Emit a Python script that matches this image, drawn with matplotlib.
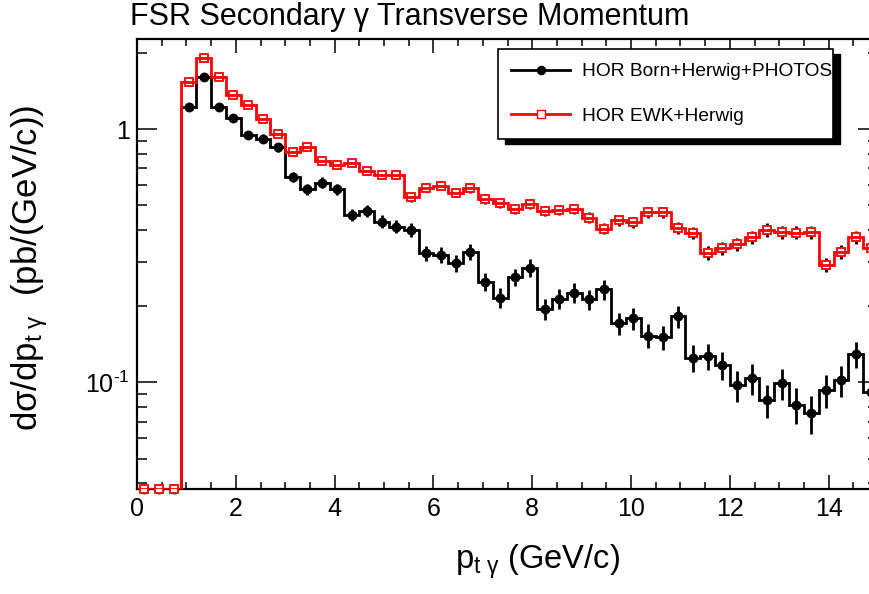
import numpy as np
import matplotlib
matplotlib.use("Agg")
import matplotlib.pyplot as plt
from matplotlib.lines import Line2D
from matplotlib.patches import Rectangle
from matplotlib.ticker import FixedLocator, FixedFormatter, NullFormatter

plt.rcParams['font.family'] = ['Liberation Sans', 'DejaVu Sans']
plt.rcParams['mathtext.fontset'] = 'custom'
plt.rcParams['mathtext.rm'] = 'Liberation Sans'
plt.rcParams['mathtext.it'] = 'Liberation Sans:italic'
plt.rcParams['mathtext.bf'] = 'Liberation Sans:bold'

# ---------------- data ----------------
bin_lo = 0.0
bin_hi = 15.0
n_bins = 50

born_vals = [0, 0, 0, 1.228, 1.60, 1.228, 1.105, 0.949, 0.918, 0.849,
             0.650, 0.579, 0.615, 0.579, 0.458, 0.477, 0.431, 0.412, 0.400, 0.324,
             0.319, 0.295, 0.328, 0.250, 0.216, 0.260, 0.284, 0.194, 0.214, 0.226,
             0.213, 0.233, 0.171, 0.179, 0.153, 0.151, 0.182, 0.125, 0.127, 0.117,
             0.0976, 0.104, 0.0851, 0.0994, 0.0815, 0.0754, 0.0932, 0.102, 0.129, 0.0913]
born_relerr = [0, 0, 0, 0.03, 0.03, 0.03, 0.035, 0.035, 0.04, 0.04,
               0.045, 0.05, 0.05, 0.05, 0.055, 0.055, 0.06, 0.06, 0.06, 0.07,
               0.07, 0.075, 0.07, 0.08, 0.09, 0.08, 0.08, 0.095, 0.09, 0.09,
               0.09, 0.09, 0.10, 0.10, 0.11, 0.11, 0.10, 0.12, 0.12, 0.13,
               0.14, 0.14, 0.15, 0.14, 0.16, 0.17, 0.15, 0.14, 0.12, 0.15]

ewk_vals = [0, 0, 0, 1.534, 1.909, 1.61, 1.366, 1.24, 1.095, 0.958,
            0.811, 0.853, 0.751, 0.721, 0.738, 0.684, 0.658, 0.659, 0.539, 0.588,
            0.598, 0.561, 0.585, 0.530, 0.510, 0.484, 0.507, 0.475, 0.480, 0.483,
            0.447, 0.404, 0.438, 0.430, 0.470, 0.471, 0.406, 0.388, 0.325, 0.339,
            0.352, 0.374, 0.400, 0.392, 0.390, 0.392, 0.291, 0.327, 0.374, 0.339]
ewk_relerr = [0, 0, 0, 0.02, 0.02, 0.02, 0.02, 0.02, 0.025, 0.025,
              0.03, 0.03, 0.03, 0.03, 0.03, 0.035, 0.035, 0.035, 0.04, 0.04,
              0.04, 0.04, 0.04, 0.045, 0.045, 0.045, 0.045, 0.045, 0.045, 0.045,
              0.05, 0.05, 0.05, 0.05, 0.05, 0.05, 0.055, 0.055, 0.06, 0.06,
              0.06, 0.06, 0.06, 0.06, 0.06, 0.06, 0.065, 0.065, 0.06, 0.065]

labels = ["HOR Born+Herwig+PHOTOS", "HOR EWK+Herwig"]
title = "FSR Secondary \u03b3 Transverse Momentum"
x_ticks = [0, 2, 4, 6, 8, 10, 12, 14]
y_major = [0.1, 1.0]
y_major_labels = ["$\\mathregular{10^{\u2010 1}}$", "1"]

# ---------------- figure ----------------
W, H = 869, 594
fig = plt.figure(figsize=(W / 100, H / 100), dpi=100)
ax_l, ax_r, ax_t, ax_b = 137, 878, 39, 489
ax = fig.add_axes([ax_l / W, (H - ax_b) / H, (ax_r - ax_l) / W, (ax_b - ax_t) / H])

ymin, ymax = 0.0379, 2.27
ax.set_yscale('log')
ax.set_xlim(bin_lo, bin_hi)
ax.set_ylim(ymin, ymax)

edges = np.linspace(bin_lo, bin_hi, n_bins + 1)
centers = 0.5 * (edges[:-1] + edges[1:])

def draw(vals, rel, color, marker, mfc, ms, z):
    v = np.asarray(vals, float)
    shown = np.where(v > 0, v, ymin)
    err = v * np.asarray(rel, float)
    ax.errorbar(centers, shown, yerr=err, fmt='none', ecolor='black',
                elinewidth=2.0, capsize=0, zorder=z, clip_on=True)
    ax.plot(centers, shown, linestyle='none', marker=marker, ms=ms,
            mfc=mfc, mec=color, mew=1.3, zorder=z + 1, clip_on=False)
    ax.stairs(shown, edges, baseline=None, color=color, lw=2.0, zorder=z + 2)

draw(born_vals, born_relerr, 'black', 'o', 'black', 5.8, 2)
draw(ewk_vals, ewk_relerr, '#ff0000', 's', 'white', 5.2, 6)

# ticks
ax.xaxis.set_major_locator(FixedLocator(x_ticks))
ax.xaxis.set_minor_locator(FixedLocator(np.arange(0, 15.01, 0.5)))
ax.set_xticklabels([str(t) for t in x_ticks])
ax.yaxis.set_major_locator(FixedLocator(y_major))
ax.yaxis.set_major_formatter(FixedFormatter(y_major_labels))
ymin_ticks = [0.04, 0.05, 0.06, 0.07, 0.08, 0.09, 0.2, 0.3, 0.4, 0.5, 0.6, 0.7, 0.8, 0.9, 2.0]
ax.yaxis.set_minor_locator(FixedLocator(ymin_ticks))
ax.yaxis.set_minor_formatter(NullFormatter())
ax.tick_params(axis='x', which='major', direction='in', length=10, width=1.1,
               top=True, labelsize=18, pad=6)
ax.tick_params(axis='x', which='minor', direction='in', length=5, width=1.1, top=True)
ax.tick_params(axis='y', which='major', direction='in', length=14.4, width=1.1,
               right=True, labelsize=18, pad=5)
ax.tick_params(axis='y', which='minor', direction='in', length=7.2, width=1.1, right=True)
for s in ax.spines.values():
    s.set_linewidth(1.6)

# titles
fig.text(130 / W, 1 - 17 / H, title, fontsize=22, ha='left', va='center')
fig.text(455 / W, 1 - 562 / H, r"$\mathregular{p_{t\ \gamma}}$ (GeV/c)",
         fontsize=23.5, ha='left', va='center')
fig.text(30 / W, 1 - 268 / H, r"$\mathregular{d\sigma/dp_{t\ \gamma}}$  (pb/(GeV/c))",
         fontsize=25, ha='center', va='center', rotation=90)

# legend box with ROOT-style shadow
lx0, lx1, ly0, ly1 = 498, 833, 49, 139
fig.patches.append(Rectangle(((lx0 + 7) / W, 1 - (ly1 + 4.5) / H), (lx1 - lx0) / W,
                             (ly1 - ly0) / H, transform=fig.transFigure,
                             facecolor='black', edgecolor='black', zorder=20))
fig.patches.append(Rectangle((lx0 / W, 1 - ly1 / H), (lx1 - lx0) / W, (ly1 - ly0) / H,
                             transform=fig.transFigure, facecolor='white',
                             edgecolor='black', lw=1.2, zorder=21))
h1 = Line2D([], [], color='black', lw=2, marker='o', ms=5.8, mfc='black', mec='black')
h2 = Line2D([], [], color='#ff0000', lw=2, marker='s', ms=5.2, mfc='white', mec='#ff0000')
leg = fig.legend([h1, h2], labels, loc='upper left',
                 bbox_to_anchor=(511 / W, 1 - 63 / H), bbox_transform=fig.transFigure,
                 frameon=False, fontsize=13.8, handlelength=3.1, handletextpad=0.6,
                 labelspacing=1.4, borderpad=0, borderaxespad=0, numpoints=1)
leg.set_zorder(25)

fig.savefig("out.png", dpi=100)
